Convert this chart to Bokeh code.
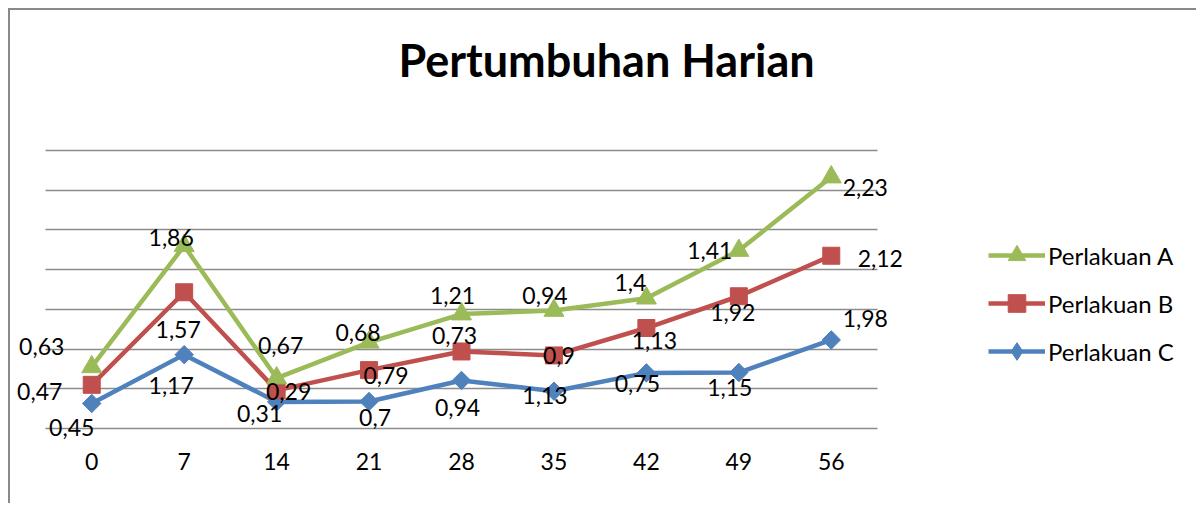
from bokeh.plotting import figure
from bokeh.models import (Range1d, FixedTicker, Label, Legend, LegendItem,
                          ColumnDataSource)
from bokeh.core.properties import value
from bokeh.embed import file_html
from bokeh.resources import INLINE

# ---- data ----
days = [0, 7, 14, 21, 28, 35, 42, 49, 56]
vals_a = [0.63, 1.86, 0.67, 0.68, 1.21, 0.94, 1.4, 1.41, 2.23]
vals_b = [0.47, 1.57, 0.29, 0.79, 0.73, 0.9, 1.13, 1.92, 2.12]
vals_c = [0.45, 1.17, 0.31, 0.7, 0.94, 1.13, 0.75, 1.15, 1.98]
series_names = ["Perlakuan A", "Perlakuan B", "Perlakuan C"]
title_text = "Pertumbuhan Harian"
grid_values = [0, 1, 2, 3, 4, 5, 6, 7]

# stacked levels (Excel stacked line)
level1 = list(vals_a)
level2 = [a + b for a, b in zip(vals_a, vals_b)]
level3 = [a + b + c for a, b, c in zip(vals_a, vals_b, vals_c)]

# ---- label placement (screen offsets, px) ----
off_top_dx = [-50, -13, 4, -11, -9, -9, -16, -29, 34]
off_top_dy = [-20, -8, -33, -10, -19, -15, -16, 0, 10]
off_mid_dx = [-52, -6, 12, 17, -7, 5, 8, -6, 49]
off_mid_dy = [7, 37, 1, 5, -16, 0, 12, 16, 3]
off_bot_dx = [-20, -13, -17, 6, -4, -9, -9, -9, 34]
off_bot_dy = [24, 31, 12, 16, 27, 4, 11, 15, -21]

FONT = "Lato"
GREEN = "#9BBB59"
RED = "#C0504D"
BLUE = "#4F81BD"
GRID = "#8c8c8c"

# ---- layout (page pixels) ----
ORIG = 10                      # canvas origin on the page (8px margin + 2px border)
W, H = 1188, 495               # canvas size
PLOT_L, PLOT_R, PLOT_T, PLOT_B = 45, 877, 150, 428
FRAME_B = 444                  # frame extends a little below the value axis
step = days[1] - days[0]
x_lo, x_hi = days[0] - step / 2, days[-1] + step / 2
kx = (PLOT_R - PLOT_L) / (x_hi - x_lo)
y_lo, y_hi = 0, 7
ky = (PLOT_B - PLOT_T) / (y_hi - y_lo)
x_start = x_lo - (PLOT_L - ORIG) / kx
x_end = x_hi + (ORIG + W - PLOT_R) / kx
y_start = y_lo - (FRAME_B - PLOT_B) / ky
y_end = y_hi + (PLOT_T - ORIG) / ky

p = figure(width=W, height=H, x_range=Range1d(x_start, x_end),
           y_range=Range1d(y_start, y_end), output_backend="svg", toolbar_location=None,
           min_border_left=0, min_border_right=0, min_border_top=0,
           min_border_bottom=ORIG + H - FRAME_B)
p.styles = {"margin-left": "8px", "margin-top": "8px",
            "border-top": "2px solid #898989", "border-left": "2px solid #898989"}
p.outline_line_color = None
p.background_fill_color = "white"
p.border_fill_color = "white"

p.yaxis.visible = False
p.xgrid.grid_line_color = None
g = p.ygrid[0]
if "cross_bounds" in g.properties():
    g.ticker = FixedTicker(ticks=grid_values)
    g.cross_bounds = (x_lo, x_hi)
    g.grid_line_color = GRID
    g.grid_line_width = 1.5
else:
    g.grid_line_color = None
    p.segment(x0=[x_lo] * len(grid_values), x1=[x_hi] * len(grid_values),
              y0=grid_values, y1=grid_values, line_color=GRID, line_width=1.5)

ax = p.xaxis[0]
ax.ticker = FixedTicker(ticks=days)
ax.bounds = (x_lo, x_hi)
ax.axis_line_color = None
ax.major_tick_line_color = None
ax.minor_tick_line_color = None
ax.major_label_text_font = FONT
ax.major_label_text_font_size = "23px"
ax.major_label_text_color = "#000000"
ax.major_label_standoff = 2

src = ColumnDataSource(dict(x=days, l1=level1, l2=level2, l3=level3))

lw = 4.5
r_cl = p.line("x", "l1", source=src, line_color=BLUE, line_width=lw)
# diamond hidden under the rotated squares; used for the legend glyph
r_cleg = p.scatter("x", "l1", source=src, marker="diamond", size=17,
                   fill_color=BLUE, line_color=BLUE)
r_cm = p.scatter("x", "l1", source=src, marker="square", angle=0.7854, size=13,
                 fill_color=BLUE, line_color=BLUE)
r_bl = p.line("x", "l2", source=src, line_color=RED, line_width=lw)
r_bm = p.scatter("x", "l2", source=src, marker="square", size=17,
                 fill_color=RED, line_color=RED)
r_al = p.line("x", "l3", source=src, line_color=GREEN, line_width=lw)
r_am = p.scatter("x", "l3", source=src, marker="triangle", size=20,
                 fill_color=GREEN, line_color=GREEN)

def fmt(v):
    return ("%g" % v).replace(".", ",")

lab_x, lab_y, lab_t, lab_dx, lab_dy = [], [], [], [], []
for i in range(len(days)):
    for lev, vals, dx, dy in ((level3, vals_a, off_top_dx, off_top_dy),
                              (level2, vals_b, off_mid_dx, off_mid_dy),
                              (level1, vals_c, off_bot_dx, off_bot_dy)):
        lab_x.append(days[i]); lab_y.append(lev[i]); lab_t.append(fmt(vals[i]))
        lab_dx.append(dx[i]); lab_dy.append(dy[i])
lsrc = ColumnDataSource(dict(x=lab_x, y=lab_y, t=lab_t, dx=lab_dx, dy=lab_dy))
p.text("x", "y", text="t", source=lsrc, x_offset="dx", y_offset="dy",
       text_font=value(FONT), text_font_size="23px", text_color="#000000",
       text_align="center", text_baseline="middle")

# title (centred over the whole chart area)
title_x = x_lo + (606 - PLOT_L) / kx
title_y = (PLOT_B - 59) / ky
p.add_layout(Label(x=title_x, y=title_y, text=title_text, text_font=FONT,
                   text_font_size="45px", text_font_style="bold", text_color="#000000",
                   text_align="center", text_baseline="middle"))

legend = Legend(items=[LegendItem(label=series_names[0], renderers=[r_al, r_am]),
                       LegendItem(label=series_names[1], renderers=[r_bl, r_bm]),
                       LegendItem(label=series_names[2], renderers=[r_cl, r_cleg])],
                location=(988 - ORIG, FRAME_B - 373), orientation="vertical",
                glyph_width=57, glyph_height=44, label_height=44, spacing=4,
                label_standoff=3, padding=0, margin=0,
                label_text_font=FONT, label_text_font_size="24px",
                label_text_color="#000000",
                border_line_color=None, background_fill_alpha=0)
p.add_layout(legend)

open("out.html", "w").write(file_html(p, INLINE))
